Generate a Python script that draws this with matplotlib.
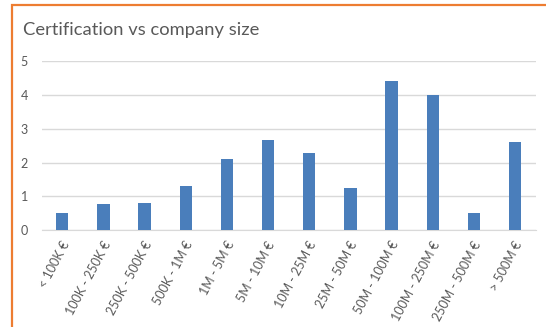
import numpy as np
import matplotlib
matplotlib.use('Agg')
import matplotlib.pyplot as plt
import matplotlib.transforms as mtransforms
from matplotlib.patches import Rectangle

# company size buckets and average certification count
sizes = ['< 100K €', '100K - 250K €', '250K - 500K €', '500K - 1M €', '1M - 5M €',
         '5M - 10M €', '10M - 25M €', '25M - 50M €', '50M - 100M €', '100M - 250M €',
         '250M - 500M €', '> 500M €']
certs = [0.5, 0.77, 0.8, 1.32, 2.1, 2.66, 2.29, 1.25, 4.4, 4.0, 0.5, 2.6]
yticks = [0, 1, 2, 3, 4, 5]

plt.rcParams['font.family'] = ['Lato', 'DejaVu Sans']
grey = '#595959'

fig = plt.figure(figsize=(5.46, 3.27), dpi=100)
fig.patch.set_facecolor('white')

# orange chart frame (left and top edges)
fig.patches.append(Rectangle((12/546, -0.1), 1.0, 1.1 - 5.5/327, transform=fig.transFigure,
                             fill=False, edgecolor='#ED7D31', linewidth=1.6))

ax = fig.add_axes([41.7/546, 96.7/327, 494/546, 169.3/327])
x = np.arange(len(sizes))
ax.bar(x, certs, width=0.3, color='#4A7EBB', zorder=3)

ax.set_xlim(-0.5, len(sizes) - 0.5)
ax.set_ylim(0, 5)
ax.set_yticks(yticks)
ax.grid(axis='y', color='#D9D9D9', linewidth=1.0, zorder=0)
for s in ['top', 'right', 'left']:
    ax.spines[s].set_visible(False)
ax.spines['bottom'].set_color('#D9D9D9')
ax.tick_params(axis='both', length=0, colors=grey, labelsize=9)
ax.tick_params(axis='y', pad=10)

ax.set_xticks(x)
ax.set_xticklabels(sizes, rotation=62, ha='right', va='center', rotation_mode='anchor')
offset = mtransforms.ScaledTranslation(4/100, -7/100, fig.dpi_scale_trans)
for lbl in ax.get_xticklabels():
    lbl.set_transform(lbl.get_transform() + offset)

fig.text(23/546, 1 - 35/327, 'Certification vs company size', fontsize=13.2,
         color=grey, ha='left', va='baseline')

fig.savefig('out.png', dpi=100)
